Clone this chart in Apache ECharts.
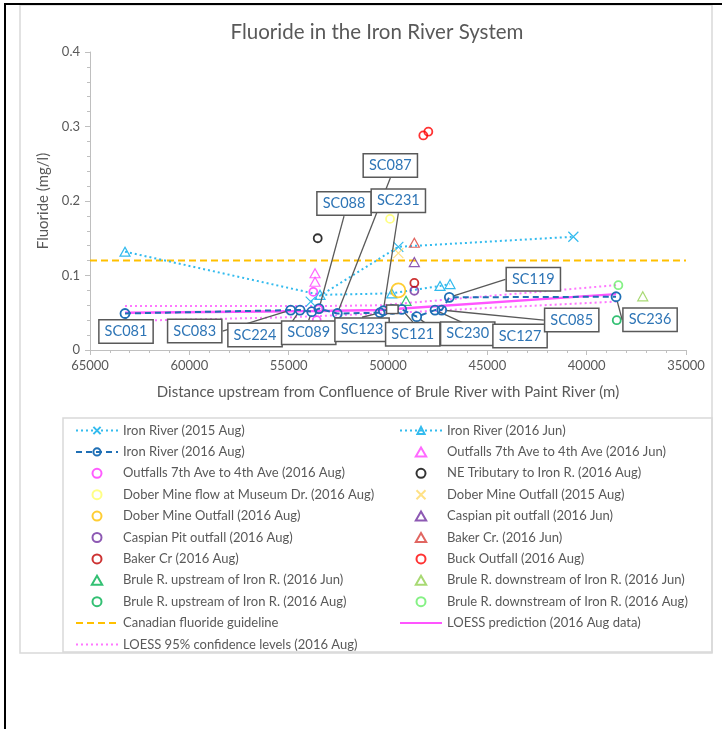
<html>
<head>
<meta charset="utf-8" />
<title>Fluoride in the Iron River System</title>
<script src="https://cdn.jsdelivr.net/npm/echarts@6/dist/echarts.min.js"></script>
<style type="text/css">
body { margin: 0; background: #fff; }
#main { width: 722px; height: 729px; }
</style>
</head>
<body>
<div id="main"></div>
<script type="text/javascript">
// values: [distance upstream (m), fluoride (mg/l)]
var ironAug2015 = [[53890, 0.065], [49480, 0.1385], [40670, 0.152]];
var ironJun2016 = [[63238, 0.132], [53422, 0.074], [49812, 0.076], [47381, 0.086], [46878, 0.0885]];
var ironAug2016 = [[63238, 0.049], [54897, 0.0536], [54429, 0.0536], [53840, 0.0514], [53472, 0.0556],
	[52551, 0.049], [50401, 0.050], [50235, 0.0527], [49782, 0.0546], [49309, 0.0546], [48554, 0.0447],
	[47633, 0.0536], [47296, 0.0536], [46913, 0.0707], [38521, 0.0715]];
var siteNames = ["SC081", "SC083", "SC224", "SC089", "SC088", "SC087", "SC123", "SC231", "",
	"SC121", "SC230", "SC127", "SC085", "SC119", "SC236"];
var outfallsAug2016 = [[53759, 0.078], [53507, 0.0546], [53588, 0.040]];
var outfallsJun2016 = [[53673, 0.103], [53673, 0.0916]];
var neTribAug2016 = [[53538, 0.150]];
var doberMuseumAug2016 = [[49898, 0.176]];
var doberOutfallAug2015 = [[49480, 0.130]];
var doberOutfallAug2016 = [[49480, 0.080]];
var caspianJun2016 = [[48674, 0.118]];
var caspianAug2016 = [[48674, 0.0795]];
var bakerJun2016 = [[48674, 0.144]];
var bakerAug2016 = [[48674, 0.090]];
var buckAug2016 = [[48222, 0.288], [47970, 0.293]];
var bruleUpJun2016 = [[49092, 0.066]];
var bruleDownJun2016 = [[37177, 0.072]];
var bruleUpAug2016 = [[38486, 0.040]];
var bruleDownAug2016 = [[38405, 0.087]];
var guideline = 0.12;
var xRange = [65000, 35000];
var loessFit = [[63238, 0.050], [53500, 0.0525], [50400, 0.0536], [38521, 0.075]];
var loessUpper = [[63238, 0.059], [53500, 0.059], [50400, 0.060], [38521, 0.087]];
var loessLower = [[63238, 0.039], [54900, 0.044], [50400, 0.049], [38521, 0.065]];

// callout box offsets (px) from each site point
var calloutOffsets = [[1, 18], [-96, 21], [-45, 25], [-3, 21], [25, -105], [53, -148], [-18, 17],
	[15, -110], null, [11, 25], [51, 17], [85, 26], [130, 10], [84, -18], [34, 23]];

var font = "Lato, sans-serif";
var gray = "#595959";
var X_PATH = "path://M0,0L10,10M10,0L0,10";
var TRI_PATH = "path://M5,0L10,8.66L0,8.66Z";

var myChart = echarts.init(document.getElementById("main"));

function ring(name, data, color, size) {
	return {
		name: name, type: "scatter", data: data,
		symbol: "circle", symbolSize: size || 8,
		itemStyle: { color: "rgba(0,0,0,0)", borderColor: color, borderWidth: 1.8 },
		z: 3
	};
}
function tri(name, data, color) {
	return {
		name: name, type: "scatter", data: data,
		symbol: TRI_PATH, symbolSize: [10, 9],
		itemStyle: { color: "rgba(0,0,0,0)", borderColor: color, borderWidth: 1.2 },
		z: 3
	};
}
function cross(name, data, color) {
	return {
		name: name, type: "scatter", data: data,
		symbol: X_PATH, symbolSize: 10,
		itemStyle: { color: "rgba(0,0,0,0)", borderColor: color, borderWidth: 1.2 },
		z: 3
	};
}

var ironAugData = ironAug2016.map(function (p, i) {
	return { value: p, name: siteNames[i] };
});

var legendBase = {
	orient: "vertical", top: 424, padding: 0,
	itemWidth: 42, itemHeight: 9, itemGap: 8.4,
	textStyle: { fontFamily: font, fontSize: 13, color: gray }
};

option = {
	backgroundColor: "#fff",
	animation: false,
	textStyle: { fontFamily: font },
	title: {
		text: "Fluoride in the Iron River System",
		left: 372, top: 17, textAlign: "center",
		textStyle: { fontFamily: font, fontSize: 20.5, fontWeight: "normal", color: gray }
	},
	graphic: [
		{ type: "rect", shape: { x: 20, y: 5, width: 692, height: 648 }, style: { fill: "none", stroke: "#d9d9d9", lineWidth: 1.5 }, z: -10 },
		{ type: "rect", shape: { x: 63, y: 418, width: 649, height: 234 }, style: { fill: "none", stroke: "#d9d9d9", lineWidth: 1.5 }, z: -10 },
		{ type: "line", shape: { x1: 4, y1: 4, x2: 722, y2: 4 }, style: { stroke: "#000", lineWidth: 2 } },
		{ type: "line", shape: { x1: 5, y1: 4, x2: 5, y2: 729 }, style: { stroke: "#000", lineWidth: 2 } }
	],
	grid: { left: 90, right: 36, top: 52, bottom: 379 },
	legend: [
		Object.assign({}, legendBase, {
			left: 75,
			data: ["Iron River (2015 Aug)", "Iron River (2016 Aug)", "Outfalls 7th Ave to 4th Ave (2016 Aug)",
				"Dober Mine flow at Museum Dr. (2016 Aug)", "Dober Mine Outfall (2016 Aug)",
				"Caspian Pit outfall (2016 Aug)", "Baker Cr (2016 Aug)",
				"Brule R. upstream of Iron R. (2016 Jun)", "Brule R. upstream of Iron R. (2016 Aug)",
				"Canadian fluoride guideline", "LOESS 95% confidence levels (2016 Aug)"]
		}),
		Object.assign({}, legendBase, {
			left: 399,
			data: ["Iron River (2016 Jun)", "Outfalls 7th Ave to 4th Ave (2016 Jun)",
				"NE Tributary to Iron R. (2016 Aug)", "Dober Mine Outfall (2015 Aug)",
				"Caspian pit outfall (2016 Jun)", "Baker Cr. (2016 Jun)", "Buck Outfall (2016 Aug)",
				"Brule R. downstream of Iron R. (2016 Jun)", "Brule R. downstream of Iron R. (2016 Aug)",
				"LOESS prediction (2016 Aug data)"]
		})
	],
	xAxis: {
		type: "value", min: xRange[1], max: xRange[0], interval: 5000, inverse: true,
		name: "Distance upstream from Confluence of Brule River with Paint River (m)",
		nameLocation: "middle", nameGap: 35,
		nameTextStyle: { fontFamily: font, fontSize: 15, color: gray },
		axisLine: { lineStyle: { color: "#bfbfbf" } },
		axisTick: { length: 5, lineStyle: { color: "#bfbfbf" } },
		minorTick: { show: true, splitNumber: 5, length: 3, lineStyle: { color: "#bfbfbf" } },
		axisLabel: { fontFamily: font, fontSize: 13, color: gray, margin: 9,
			formatter: function (v) { return String(v); } },
		splitLine: { show: false }
	},
	yAxis: {
		type: "value", min: 0, max: 0.4, interval: 0.1,
		name: "Fluoride (mg/l)", nameLocation: "middle", nameGap: 37,
		nameTextStyle: { fontFamily: font, fontSize: 15, color: gray },
		axisLine: { show: true, lineStyle: { color: "#bfbfbf" } },
		axisTick: { show: true, length: 5, lineStyle: { color: "#bfbfbf" } },
		minorTick: { show: true, splitNumber: 5, length: 3, lineStyle: { color: "#bfbfbf" } },
		axisLabel: { fontFamily: font, fontSize: 13, color: gray, margin: 10 },
		splitLine: { show: false }
	},
	series: [
		{
			name: "Canadian fluoride guideline", type: "line",
			data: [[xRange[0], guideline], [xRange[1], guideline]],
			symbol: "none", lineStyle: { color: "#ffc000", width: 2, type: [7, 4] },
			itemStyle: { color: "#ffc000", opacity: 0 }, z: 2
		},
		{
			name: "LOESS 95% confidence levels (2016 Aug)", type: "line", data: loessUpper,
			symbol: "none", lineStyle: { color: "#ff77ff", width: 2, type: [2, 3] },
			itemStyle: { color: "#ff77ff", opacity: 0 }, z: 2
		},
		{
			name: "LOESS 95% confidence levels (2016 Aug)", type: "line", data: loessLower,
			symbol: "none", lineStyle: { color: "#ff77ff", width: 2, type: [2, 3] },
			itemStyle: { color: "#ff77ff", opacity: 0 }, z: 2
		},
		{
			name: "Iron River (2015 Aug)", type: "line", data: ironAug2015,
			symbol: X_PATH, symbolSize: 10,
			lineStyle: { color: "#33bbee", width: 2, type: [2, 3] },
			itemStyle: { color: "rgba(0,0,0,0)", borderColor: "#33bbee", borderWidth: 1.2 }, z: 3
		},
		{
			name: "Iron River (2016 Jun)", type: "line", data: ironJun2016,
			symbol: TRI_PATH, symbolSize: [10, 9],
			lineStyle: { color: "#33bbee", width: 2, type: [2, 3] },
			itemStyle: { color: "rgba(0,0,0,0)", borderColor: "#33bbee", borderWidth: 1.2 }, z: 3
		},
		ring("Outfalls 7th Ave to 4th Ave (2016 Aug)", outfallsAug2016, "#ff33ff"),
		tri("Outfalls 7th Ave to 4th Ave (2016 Jun)", outfallsJun2016, "#ff44ff"),
		ring("NE Tributary to Iron R. (2016 Aug)", neTribAug2016, "#000000"),
		ring("Dober Mine flow at Museum Dr. (2016 Aug)", doberMuseumAug2016, "#ffff66"),
		cross("Dober Mine Outfall (2015 Aug)", doberOutfallAug2015, "#ffd966"),
		ring("Dober Mine Outfall (2016 Aug)", doberOutfallAug2016, "#ffc000", 14),
		tri("Caspian pit outfall (2016 Jun)", caspianJun2016, "#7030a0"),
		ring("Caspian Pit outfall (2016 Aug)", caspianAug2016, "#7030a0"),
		tri("Baker Cr. (2016 Jun)", bakerJun2016, "#d9403a"),
		ring("Baker Cr (2016 Aug)", bakerAug2016, "#c00000"),
		ring("Buck Outfall (2016 Aug)", buckAug2016, "#ff0000"),
		tri("Brule R. upstream of Iron R. (2016 Jun)", bruleUpJun2016, "#00b050"),
		tri("Brule R. downstream of Iron R. (2016 Jun)", bruleDownJun2016, "#92d050"),
		ring("Brule R. upstream of Iron R. (2016 Aug)", bruleUpAug2016, "#00b050"),
		ring("Brule R. downstream of Iron R. (2016 Aug)", bruleDownAug2016, "#66ee66"),
		{
			name: "LOESS prediction (2016 Aug data)", type: "line", data: loessFit,
			symbol: "none", lineStyle: { color: "#ff55ff", width: 2.5 },
			itemStyle: { color: "#ff55ff", opacity: 0 }, z: 4
		},
		{
			name: "Iron River (2016 Aug)", type: "line", data: ironAugData,
			symbol: "circle", symbolSize: 9,
			lineStyle: { color: "#1f6fb5", width: 2, type: [6, 4] },
			itemStyle: { color: "rgba(0,0,0,0)", borderColor: "#1f6fb5", borderWidth: 1.8 },
			z: 10,
			label: {
				show: true, position: "inside", formatter: "{b}",
				fontFamily: font, fontSize: 14.5, color: "#2e75b6",
				backgroundColor: "#fff", borderColor: gray, borderWidth: 1.5,
				padding: [4, 5, 3, 5]
			},
			labelLine: { show: true, lineStyle: { color: gray, width: 1.3 } },
			labelLayout: function (params) {
				var off = calloutOffsets[params.dataIndex];
				if (!off) return {};
				return { dx: off[0], dy: off[1], hideOverlap: false };
			}
		}
	]
};

myChart.setOption(option);
</script>
</body>
</html>
